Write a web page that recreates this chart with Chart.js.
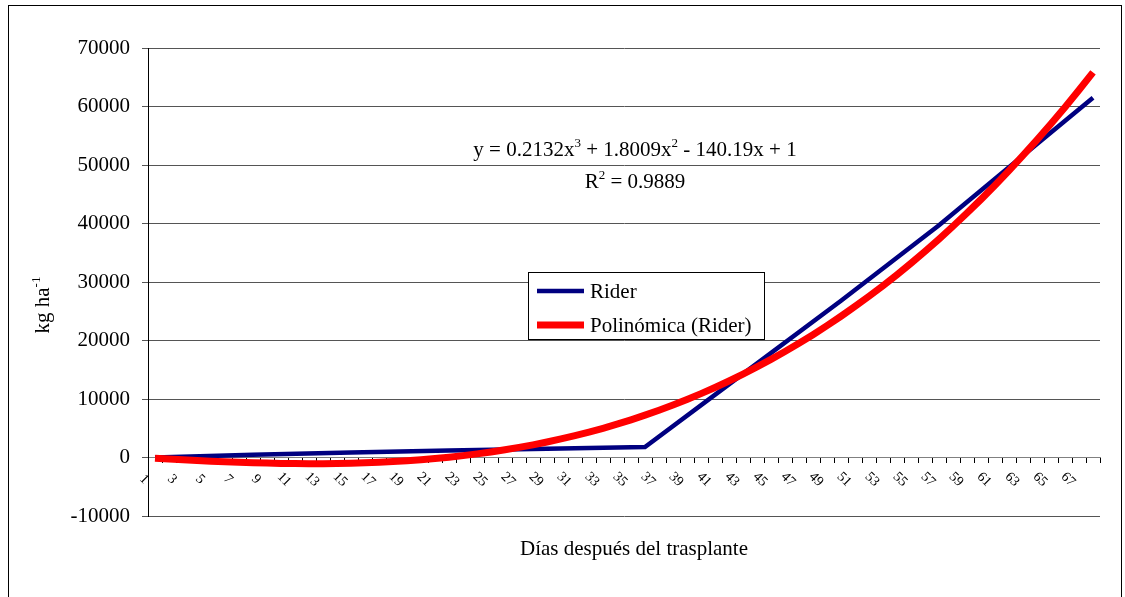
<!DOCTYPE html>
<html>
<head>
<meta charset="utf-8">
<script src="https://cdn.jsdelivr.net/npm/chart.js@4.4.1/dist/chart.umd.min.js"></script>
<style>
  html, body { margin: 0; padding: 0; background: #fff; }
  #grafico { position: absolute; left: 0; top: 0; }
</style>
</head>
<body>
<canvas id="grafico" width="1125" height="597"></canvas>
<script>
// dias despues del trasplante (categorias del eje x)
const dias = [1, 2, 3, 4, 5, 6, 7, 8, 9, 10, 11, 12, 13, 14, 15, 16, 17, 18, 19, 20,
  21, 22, 23, 24, 25, 26, 27, 28, 29, 30, 31, 32, 33, 34, 35, 36, 37, 38, 39, 40,
  41, 42, 43, 44, 45, 46, 47, 48, 49, 50, 51, 52, 53, 54, 55, 56, 57, 58, 59, 60,
  61, 62, 63, 64, 65, 66, 67, 68];

// muestreos de Rider
const diasRider = [1, 8, 15, 22, 29, 36, 43, 50, 57, 64, 68];
const rider = [0, 450, 850, 1200, 1500, 1800, 14300, 26800, 39700, 53600, 61500];

// linea de tendencia polinomica, un valor por dia
const polinomica = [-137, -270, -398, -517, -628, -729, -819, -896, -959, -1008,
  -1039, -1054, -1049, -1024, -977, -908, -814, -695, -550, -377,
  -174, 59, 323, 621, 953, 1321, 1725, 2168, 2650, 3172,
  3737, 4345, 4998, 5696, 6441, 7235, 8079, 8973, 9920, 10920,
  11974, 13085, 14254, 15480, 16767, 18115, 19525, 20999, 22538, 24144,
  25817, 27558, 29370, 31253, 33209, 35239, 37344, 39526, 41786, 44124,
  46543, 49043, 51627, 54294, 57047, 59887, 62815, 65832];

const marcasY = [-10000, 0, 10000, 20000, 30000, 40000, 50000, 60000, 70000];

const fuente = '"Liberation Serif", "Times New Roman", serif';

function textoConSuper(ctx, partes, cx, y, tam) {
  let ancho = 0;
  partes.forEach(([t, s]) => {
    ctx.font = (s ? Math.round(tam * 0.62) : tam) + 'px ' + fuente;
    ancho += ctx.measureText(t).width;
  });
  let x = cx - ancho / 2;
  partes.forEach(([t, s]) => {
    ctx.font = (s ? Math.round(tam * 0.62) : tam) + 'px ' + fuente;
    ctx.fillText(t, x, s ? y - tam * 0.42 : y);
    x += ctx.measureText(t).width;
  });
}

const textos = {
  id: 'textos',
  afterDraw(chart) {
    const ctx = chart.ctx;
    const xs = chart.scales.x;
    const y0 = chart.scales.y.getPixelForValue(0);
    ctx.save();
    ctx.fillStyle = '#000';

    // etiquetas del eje x, giradas
    ctx.font = '14px ' + fuente;
    ctx.textAlign = 'center';
    ctx.textBaseline = 'middle';
    dias.forEach((d, i) => {
      if (i % 2) return;
      const px = xs.getPixelForValue(i);
      ctx.save();
      ctx.translate(px - 11, y0 + 22);
      ctx.rotate(Math.PI / 4);
      ctx.fillText(String(d), 0, 0);
      ctx.restore();
    });

    ctx.textAlign = 'left';
    ctx.textBaseline = 'alphabetic';
    // ecuacion
    textoConSuper(ctx, [['y = 0.2132x'], ['3', true], [' + 1.8009x'], ['2', true], [' - 140.19x + 1']], 635, 156, 21);
    textoConSuper(ctx, [['R'], ['2', true], [' = 0.9889']], 635, 188, 21);

    // titulos de ejes
    textoConSuper(ctx, [['Días después del trasplante']], 634, 555, 21);
    ctx.save();
    ctx.translate(49, 305);
    ctx.rotate(-Math.PI / 2);
    textoConSuper(ctx, [['kg ha'], ['-1', true]], 0, 0, 21);
    ctx.restore();

    // leyenda
    ctx.fillStyle = '#fff';
    ctx.fillRect(528.5, 272.5, 236, 67);
    ctx.strokeStyle = '#000';
    ctx.lineWidth = 1;
    ctx.strokeRect(528.5, 272.5, 236, 67);
    const orden = [1, 0];
    orden.forEach((k, fila) => {
      const ds = chart.data.datasets[k];
      const yy = 291 + fila * 34;
      ctx.strokeStyle = ds.borderColor;
      ctx.lineWidth = ds.borderWidth;
      ctx.beginPath();
      ctx.moveTo(537, yy);
      ctx.lineTo(584, yy);
      ctx.stroke();
      ctx.fillStyle = '#000';
      ctx.font = '21px ' + fuente;
      ctx.textBaseline = 'middle';
      ctx.fillText(ds.label, 590, yy + 1);
    });

    // marco
    ctx.strokeStyle = '#000';
    ctx.lineWidth = 1;
    ctx.strokeRect(8.5, 5.5, 1113, 600);
    ctx.restore();
  }
};

new Chart(document.getElementById('grafico'), {
  type: 'line',
  data: {
    labels: dias,
    datasets: [
      {
        label: 'Polinómica (Rider)',
        data: polinomica,
        borderColor: '#ff0000',
        borderWidth: 7,
        pointRadius: 0,
        tension: 0,
        order: 0
      },
      {
        label: 'Rider',
        data: diasRider.map((d, i) => ({ x: d, y: rider[i] })),
        borderColor: '#000080',
        borderWidth: 4.5,
        pointRadius: 0,
        tension: 0,
        order: 1
      }
    ]
  },
  options: {
    responsive: false,
    animation: false,
    layout: { padding: { top: 48, right: 25, bottom: 81, left: 0 } },
    plugins: { legend: { display: false }, tooltip: { enabled: false } },
    scales: {
      x: {
        type: 'category',
        position: { y: 0 },
        offset: true,
        grid: { offset: true, drawOnChartArea: false, color: '#000', tickLength: 5 },
        border: { color: '#808080', width: 1 },
        ticks: { display: false, autoSkip: false }
      },
      y: {
        min: -10000,
        max: 70000,
        afterFit(scale) { scale.width = 148; },
        afterBuildTicks(scale) { scale.ticks = marcasY.map(v => ({ value: v })); },
        grid: { color: '#555', tickLength: 6 },
        border: { color: '#000', width: 1 },
        ticks: {
          color: '#000',
          padding: 12,
          font: { family: fuente, size: 21 },
          callback: v => String(v)
        }
      }
    }
  },
  plugins: [textos]
});
</script>
</body>
</html>
